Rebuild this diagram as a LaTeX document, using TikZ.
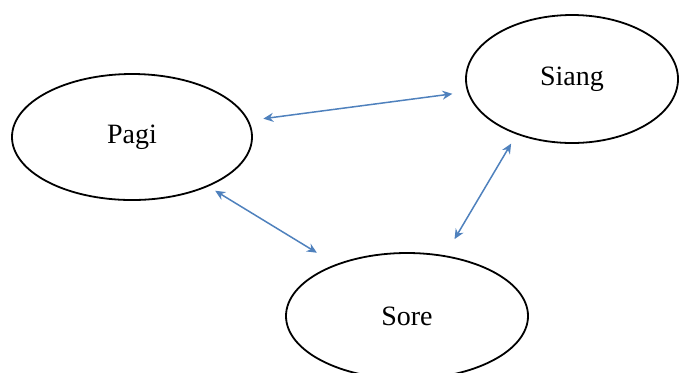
\documentclass[tikz,border=0pt]{standalone}
\usepackage{fontspec}
\setmainfont{Liberation Serif}
\usepackage{tikz}
\usetikzlibrary{shapes.geometric,arrows.meta}
\definecolor{linkblue}{RGB}{79,129,189}

\begin{document}
\begin{tikzpicture}[x=0.5pt,y=-0.5pt,font=\fontsize{14}{16}\selectfont,
 el/.style={draw=black,line width=0.9pt,ellipse,inner sep=0pt},
 ln/.style={linkblue,line width=0.75pt,{Stealth[length=5pt,width=4.5pt]}-{Stealth[length=5pt,width=4.5pt]}}]
 \useasboundingbox (0,0) rectangle (679,372);
 \node[el,minimum width=120pt,minimum height=63pt](pagi) at (132,137){Pagi};
 \node[el,minimum width=106pt,minimum height=64pt](siang) at (572,79){Siang};
 \node[el,minimum width=121pt,minimum height=63pt](sore) at (407,316){Sore};
 \draw[ln,shorten <=7.3pt,shorten >=7.5pt](pagi.8)--(siang.187);
 \draw[ln,shorten <=4pt,shorten >=11pt](pagi.-33)--(sore.144);
 \draw[ln,shorten <=5.3pt,shorten >=9.4pt](siang.225)--(sore.58);
\end{tikzpicture}
\end{document}
